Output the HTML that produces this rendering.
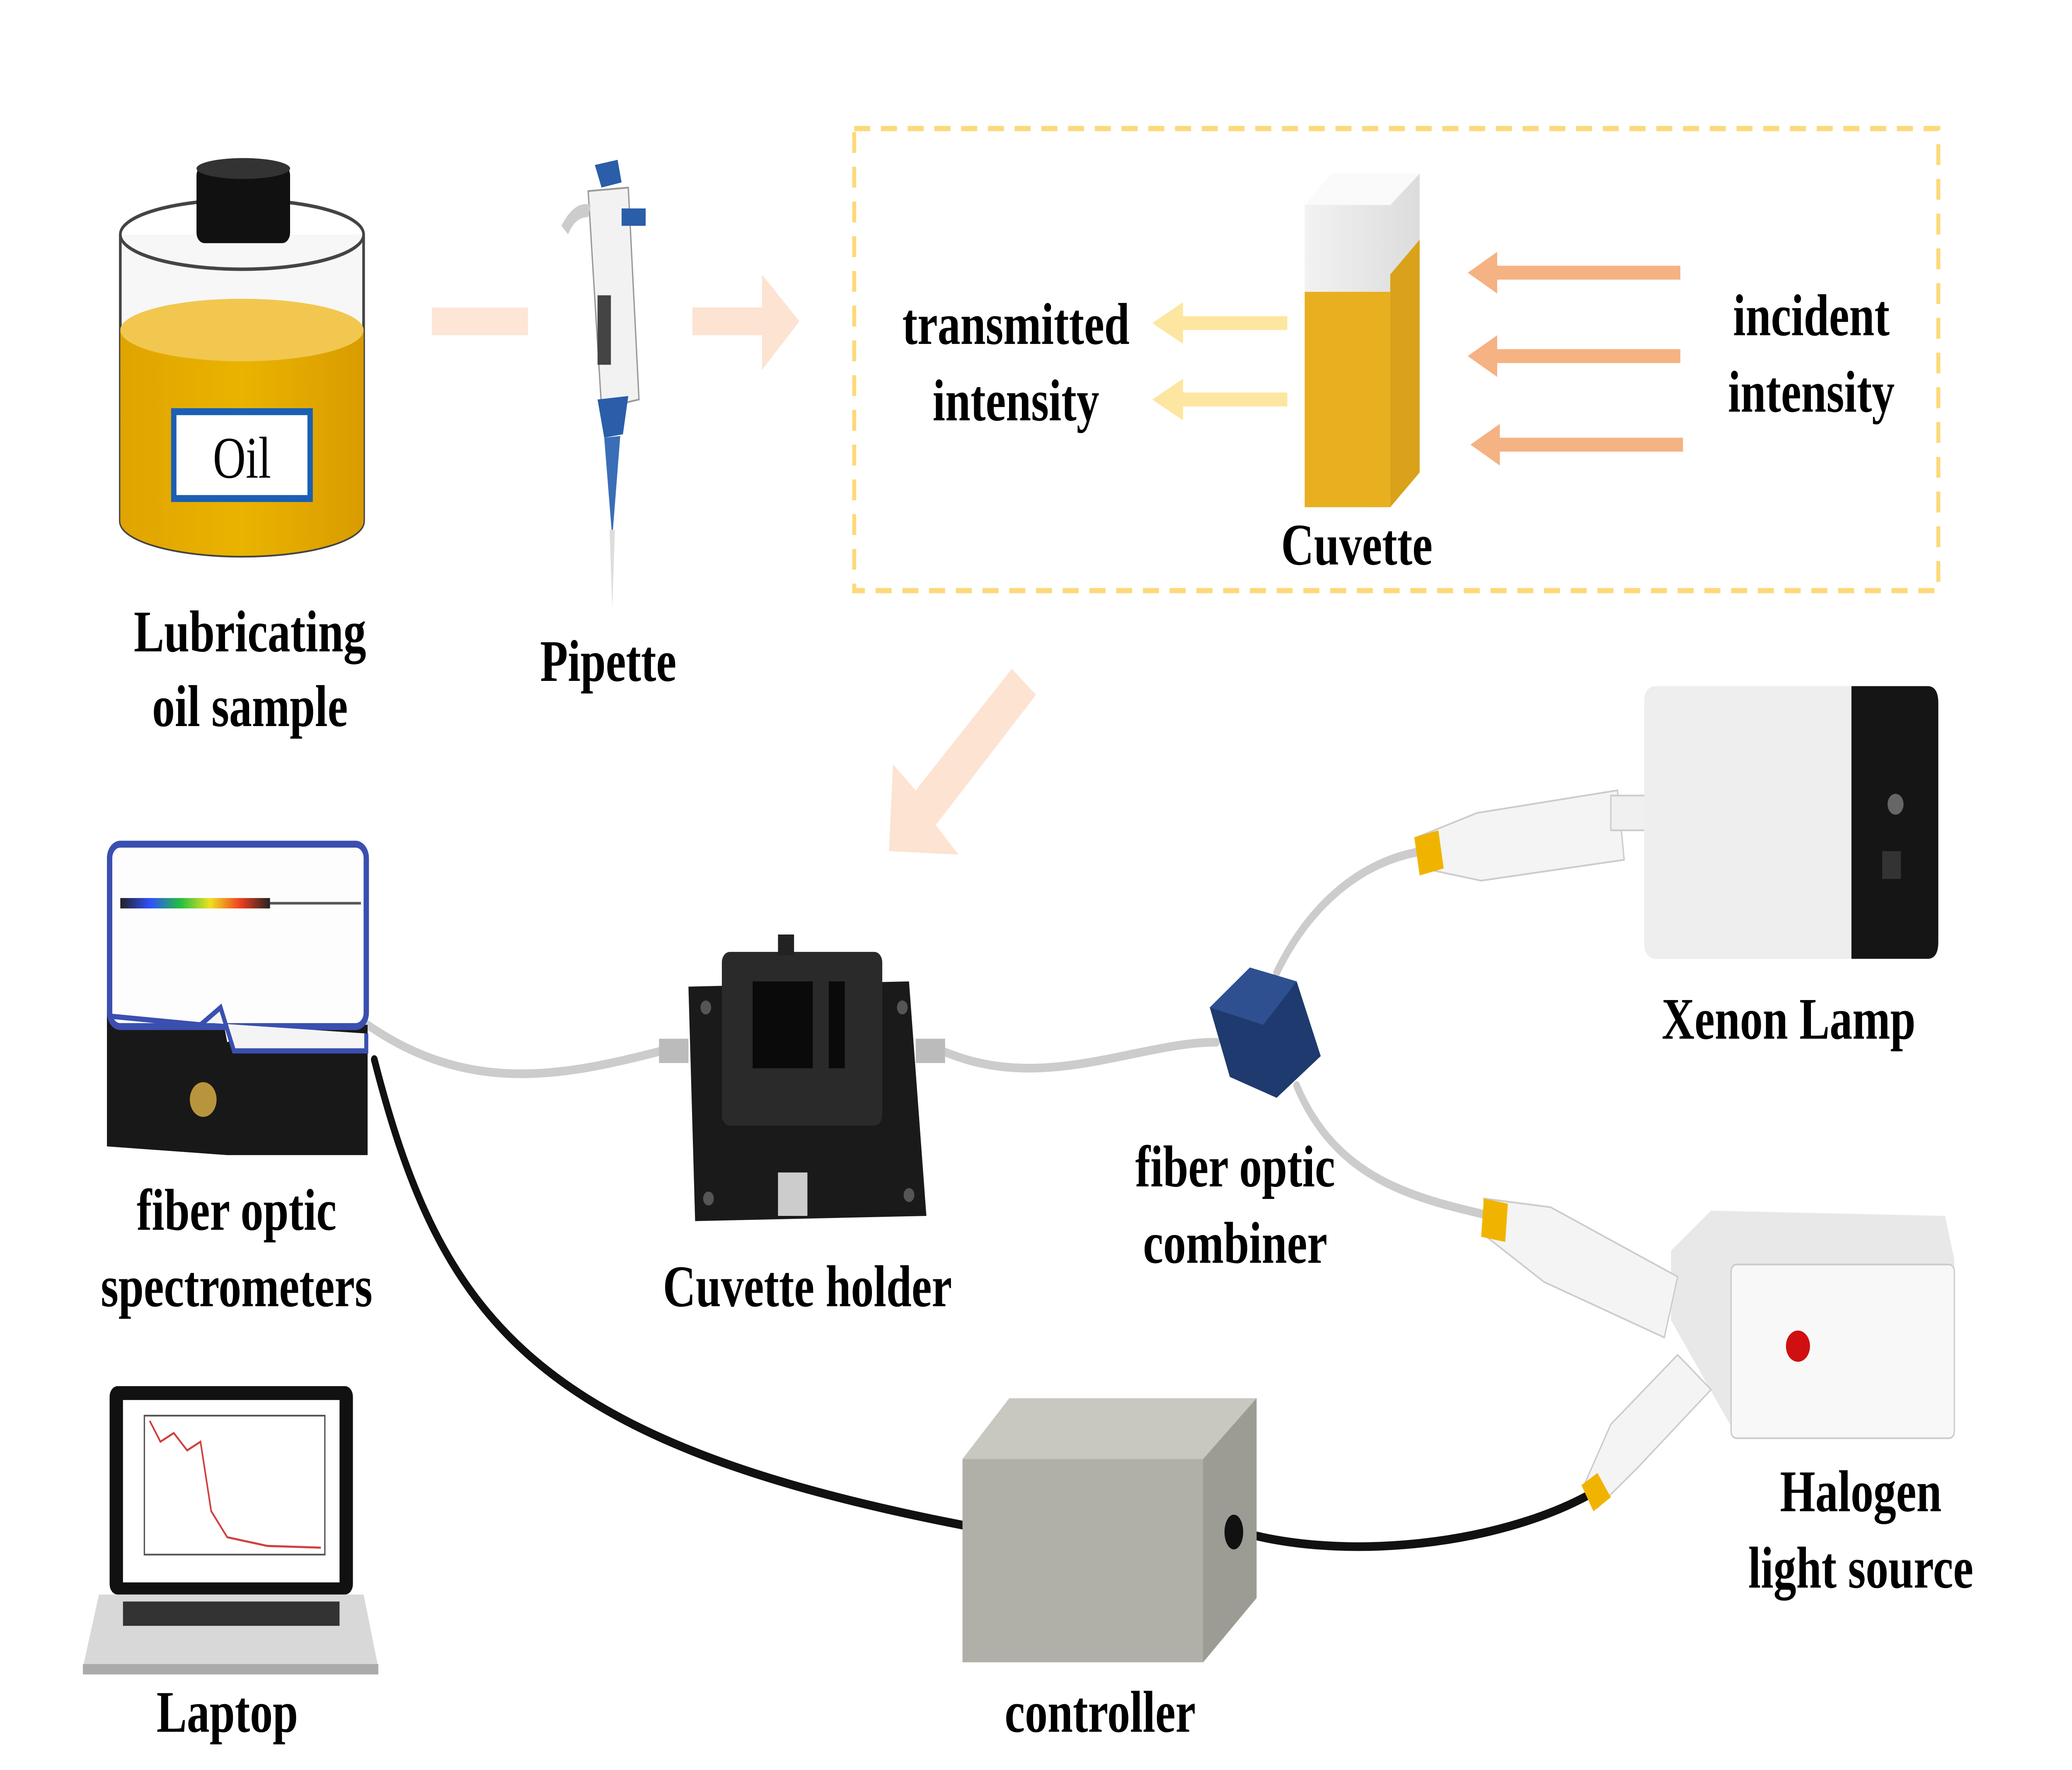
<!DOCTYPE html>
<html><head><meta charset="utf-8"><style>
html,body{margin:0;padding:0;background:#fff;width:100%;height:100%;overflow:hidden;}
svg{display:block;width:100vw;height:100vh;}
text{font-family:"Liberation Serif",serif;font-weight:bold;fill:#000;text-anchor:middle;}
</style></head><body>
<svg viewBox="0 0 1550 1019" preserveAspectRatio="none" xmlns="http://www.w3.org/2000/svg">
<defs>
<linearGradient id="oil" x1="0" x2="1"><stop offset="0" stop-color="#e0a400"/><stop offset="0.5" stop-color="#eab300"/><stop offset="1" stop-color="#d99c00"/></linearGradient>
<linearGradient id="gl" x1="0" x2="1"><stop offset="0" stop-color="#f2f2f2"/><stop offset="1" stop-color="#dcdcdc"/></linearGradient>
<linearGradient id="spec" x1="0" x2="1"><stop offset="0" stop-color="#222"/><stop offset="0.2" stop-color="#3050ff"/><stop offset="0.4" stop-color="#20c040"/><stop offset="0.6" stop-color="#f0e020"/><stop offset="0.8" stop-color="#f04020"/><stop offset="1" stop-color="#222"/></linearGradient>
</defs>
<path d="M90 135 L90 300 A91 20 0 0 0 272 300 L272 135" fill="#f7f7f7" stroke="#444" stroke-width="2"/>
<path d="M90 190 L90 300 A91 20 0 0 0 272 300 L272 190 Z" fill="url(#oil)"/>
<ellipse cx="181" cy="190" rx="91" ry="18" fill="#f2c750"/>
<ellipse cx="181" cy="135" rx="91" ry="20" fill="none" stroke="#444" stroke-width="2"/>
<rect x="147" y="95" width="70" height="45" rx="6" fill="#111"/>
<ellipse cx="182" cy="97" rx="35" ry="6" fill="#333"/>
<rect x="130" y="237" width="102" height="50" fill="#fff" stroke="#1a5fb4" stroke-width="4"/>
<text x="181" y="275" style="font-weight:normal;font-size:34px">Oil</text>
<text x="187" y="375" font-size="34">Lubricating</text>
<text x="187" y="418" font-size="34">oil sample</text>
<rect x="323" y="177" width="72" height="16" fill="#fde6d6"/>
<path d="M518 177 L570 177 L570 158 L598 185 L570 213 L570 193 L518 193 Z" fill="#fde3d2"/>
<path d="M445 95 L462 92 L465 105 L450 108 Z" fill="#2a5ea8"/>
<path d="M440 110 L470 108 L478 230 L450 235 Z" fill="#f2f2f2" stroke="#999"/>
<path d="M420 130 Q430 115 442 118 L440 125 Q430 125 425 135 Z" fill="#ccc"/>
<rect x="465" y="120" width="18" height="10" fill="#2a5ea8"/>
<rect x="447" y="170" width="10" height="40" fill="#444"/>
<path d="M447 230 L470 228 L466 250 L452 252 Z" fill="#2a5ea8"/>
<path d="M452 252 L464 251 L458 310 Z" fill="#3a6eb8"/>
<path d="M456 305 L460 305 L458 350 Z" fill="#ddd"/>
<text x="455" y="392" font-size="34">Pipette</text>
<rect x="639" y="74" width="811" height="266" fill="none" stroke="#fcd97a" stroke-width="3" stroke-dasharray="12 8"/>
<text x="760" y="198" font-size="34">transmitted</text>
<text x="760" y="242" font-size="34">intensity</text>
<g fill="#fde6a0">
<path d="M963 182 L885 182 L885 174 L862 186 L885 198 L885 190 L963 190 Z"/>
<path d="M963 226 L885 226 L885 218 L862 230 L885 242 L885 234 L963 234 Z"/>
</g>
<g fill="#f5b283">
<path d="M1257 153 L1120 153 L1120 145 L1098 157 L1120 169 L1120 161 L1257 161 Z"/>
<path d="M1257 201 L1120 201 L1120 193 L1098 205 L1120 217 L1120 209 L1257 209 Z"/>
<path d="M1259 252 L1122 252 L1122 244 L1100 256 L1122 268 L1122 260 L1259 260 Z"/>
</g>
<path d="M976 118 L996 100 L1062 100 L1062 272 L1040 292 L976 292 Z" fill="url(#gl)"/>
<rect x="976" y="168" width="64" height="124" fill="#e8b020"/>
<path d="M1040 158 L1062 138 L1062 272 L1040 292 Z" fill="#d9a21a"/>
<path d="M976 118 L996 100 L1062 100 L1040 118 Z" fill="#fafafa"/>
<text x="1015" y="325" font-size="34">Cuvette</text>
<text x="1355" y="193" font-size="34">incident</text>
<text x="1355" y="237" font-size="34">intensity</text>
<path d="M775 400 L757 385 L685 455 L668 440 L665 490 L717 492 L700 475 Z" fill="#fde3d2"/>
<g fill="none" stroke="#ccc" stroke-width="5" stroke-linecap="round">
<path d="M275 590 C 350 630 420 620 495 605"/>
<path d="M705 605 C 780 630 850 600 910 600"/>
<path d="M955 560 C 980 520 1020 495 1065 490"/>
<path d="M970 625 C 1000 680 1060 690 1115 700"/>
</g>
<g fill="none" stroke="#111" stroke-width="5" stroke-linecap="round">
<path d="M280 610 C 330 760 400 830 720 878"/>
<path d="M920 880 C 1000 900 1120 890 1190 860"/>
</g>
<path d="M80 560 L80 660 L170 665 L275 665 L275 590 L200 590 L170 600 L165 580 L80 580 Z" fill="#181818"/>
<rect x="82" y="486" width="192" height="105" rx="8" fill="#fdfdfd" stroke="#3a4fb0" stroke-width="4"/>
<path d="M82 585 L150 590 L165 580 L175 605 L274 605 L274 595" fill="#f4f4f4" stroke="#3a4fb0" stroke-width="3"/>
<rect x="90" y="517" width="112" height="6" fill="url(#spec)"/>
<line x1="202" y1="520" x2="270" y2="520" stroke="#555" stroke-width="1.5"/>
<circle cx="152" cy="633" r="10" fill="#b8953c"/>
<text x="177" y="708" font-size="34">fiber optic</text>
<text x="177" y="752" font-size="34">spectrometers</text>
<path d="M515 568 L680 565 L693 700 L520 703 Z" fill="#1a1a1a"/>
<rect x="540" y="548" width="120" height="100" rx="6" fill="#2a2a2a"/>
<rect x="563" y="565" width="45" height="50" fill="#0a0a0a"/>
<rect x="620" y="565" width="12" height="50" fill="#0a0a0a"/>
<rect x="582" y="538" width="12" height="12" fill="#222"/>
<rect x="493" y="598" width="22" height="14" fill="#bbb"/>
<rect x="685" y="598" width="22" height="14" fill="#bbb"/>
<rect x="582" y="675" width="22" height="25" fill="#ccc"/>
<circle cx="528" cy="580" r="4" fill="#555"/><circle cx="675" cy="580" r="4" fill="#555"/>
<circle cx="530" cy="690" r="4" fill="#555"/><circle cx="680" cy="688" r="4" fill="#555"/>
<text x="604" y="752" font-size="34">Cuvette holder</text>
<path d="M905 580 L935 557 L970 565 L988 608 L955 632 L920 620 Z" fill="#1f3a6e"/>
<path d="M935 557 L970 565 L945 590 L905 580 Z" fill="#2e5090"/>
<text x="924" y="683" font-size="34">fiber optic</text>
<text x="924" y="727" font-size="34">combiner</text>
<path d="M1060 482 L1105 468 L1210 455 L1215 495 L1108 507 L1065 500 Z" fill="#f4f4f4" stroke="#ccc"/>
<rect x="1205" y="458" width="35" height="20" fill="#f0f0f0" stroke="#ccc"/>
<path d="M1058 482 L1076 478 L1080 500 L1062 504 Z" fill="#f0b400"/>
<rect x="1230" y="395" width="220" height="157" rx="8" fill="#eeeeee"/>
<path d="M1385 395 L1442 395 Q1450 395 1450 405 L1450 542 Q1450 552 1442 552 L1385 552 Z" fill="#151515"/>
<circle cx="1418" cy="463" r="6" fill="#666"/>
<rect x="1408" y="490" width="14" height="16" fill="#333"/>
<text x="1338" y="598" font-size="34">Xenon Lamp</text>
<path d="M1250 720 L1280 697 L1455 700 L1462 725 L1462 815 L1300 828 L1250 760 Z" fill="#e8e8e8"/>
<rect x="1295" y="728" width="167" height="100" rx="4" fill="#f8f8f8" stroke="#ccc"/>
<circle cx="1345" cy="775" r="9" fill="#d01010"/>
<path d="M1110 690 L1160 695 L1255 735 L1245 770 L1155 738 L1112 712 Z" fill="#f4f4f4" stroke="#ccc"/>
<path d="M1110 690 L1128 693 L1126 715 L1108 712 Z" fill="#f0b400"/>
<path d="M1185 855 L1205 820 L1255 780 L1280 800 L1225 845 L1195 868 Z" fill="#f4f4f4" stroke="#ccc"/>
<path d="M1183 855 L1195 848 L1205 862 L1192 870 Z" fill="#f0b400"/>
<text x="1392" y="870" font-size="34">Halogen</text>
<text x="1392" y="914" font-size="34">light source</text>
<path d="M720 840 L755 805 L940 805 L940 920 L900 957 L720 957 Z" fill="#b0b0a8"/>
<path d="M720 840 L755 805 L940 805 L900 840 Z" fill="#c8c8c0"/>
<path d="M900 840 L940 805 L940 920 L900 957 Z" fill="#9c9c94"/>
<ellipse cx="923" cy="882" rx="7" ry="10" fill="#111"/>
<text x="823" y="997" font-size="34">controller</text>
<rect x="82" y="798" width="182" height="120" rx="6" fill="#111"/>
<rect x="92" y="806" width="162" height="105" fill="#fff"/>
<rect x="108" y="815" width="135" height="80" fill="none" stroke="#555" stroke-width="1"/>
<path d="M112 818 L120 830 L130 825 L140 835 L150 830 L158 870 L170 885 L200 890 L240 891" fill="none" stroke="#d04040" stroke-width="1.2"/>
<path d="M74 918 L272 918 L283 960 L62 960 Z" fill="#d8d8d8"/>
<rect x="92" y="922" width="162" height="14" fill="#333"/>
<rect x="62" y="958" width="221" height="6" fill="#aaa"/>
<text x="170" y="997" font-size="34">Laptop</text>
</svg>
</body></html>
